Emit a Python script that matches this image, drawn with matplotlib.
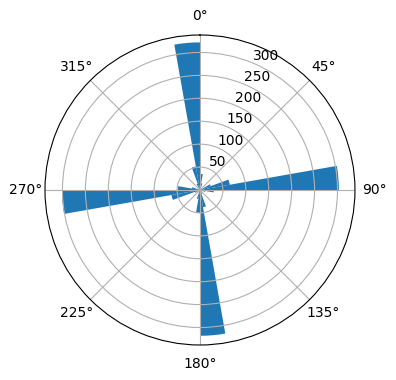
import numpy as np
import matplotlib
matplotlib.use("Agg")
import matplotlib.pyplot as plt

# 10-degree direction bins, left edges in degrees
bin_edges_deg = list(range(0, 360, 10))
# counts per bin
counts = [35, 15, 5, 2, 0, 3, 25, 66, 303, 30,
          12, 4, 2, 0, 3, 10, 38, 318, 50, 20,
          6, 2, 0, 2, 12, 63, 301, 48, 18, 6,
          2, 0, 3, 15, 52, 322]
bin_width_deg = 10

fig = plt.figure(figsize=(3.96, 3.8), dpi=100)
ax = fig.add_axes([0.1136, 0.0921, 0.7828, 0.8158], projection='polar')
ax.set_theta_zero_location('N')
ax.set_theta_direction(-1)

theta = np.deg2rad(bin_edges_deg)
ax.bar(theta, counts, width=np.deg2rad(bin_width_deg), align='edge', color='#1f77b4')

ax.set_rticks([50, 100, 150, 200, 250, 300])

fig.savefig('out.png', dpi=100)
